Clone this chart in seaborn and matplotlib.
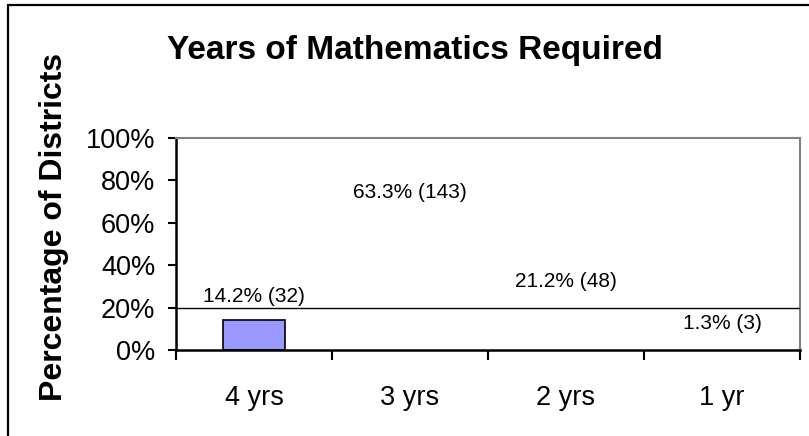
import matplotlib
matplotlib.use("Agg")
import matplotlib.pyplot as plt
import seaborn as sns
import pandas as pd
from matplotlib.patches import Rectangle
from matplotlib.ticker import FixedLocator

categories = ["4 yrs", "3 yrs", "2 yrs", "1 yr"]
percent = [14.2, 63.3, 21.2, 1.3]
counts = [32, 143, 48, 3]
y_ticks = [0, 20, 40, 60, 80, 100]
y_tick_labels = ["0%", "20%", "40%", "60%", "80%", "100%"]
title = "Years of Mathematics Required"
y_label = "Percentage of Districts"

sns.set_theme(style="white")
plt.rcParams["font.family"] = ["Liberation Sans", "DejaVu Sans"]

df = pd.DataFrame({"cat": categories, "pct": percent})

W, H = 809, 436
fig = plt.figure(figsize=(W / 100, H / 100), dpi=100)
ax = fig.add_axes([176 / W, 86 / H, 624 / W, 212 / H])

sns.barplot(data=df, x="cat", y="pct", ax=ax, width=0.4, saturation=1,
            color="#9999FF", edgecolor="black", linewidth=1.2, zorder=2)
# only the first bar is visible in the reference
for i, p in enumerate(ax.patches):
    if i > 0:
        p.set_visible(False)

ax.set_xlim(-0.5, len(categories) - 0.5)
ax.set_ylim(0, 100)
ax.axhline(20, color="black", linewidth=1.0, zorder=3)

for i, (v, c) in enumerate(zip(percent, counts)):
    ax.annotate(f"{v}% ({c})", xy=(i, v), xytext=(0, 17), textcoords="offset points",
                ha="center", va="center", fontsize=15, color="black")

ax.set_yticks(y_ticks)
ax.set_yticklabels(y_tick_labels, fontsize=19.5, color="black")
ax.tick_params(axis="y", direction="out", length=6, width=1.5, pad=9, color="black", left=True)
ax.set_xticks(range(len(categories)))
ax.set_xticklabels(categories, fontsize=19.5, color="black")
ax.tick_params(axis="x", which="major", length=0, pad=25)
ax.xaxis.set_minor_locator(FixedLocator([i - 0.5 for i in range(len(categories) + 1)]))
ax.tick_params(axis="x", which="minor", direction="out", length=7, width=1.5,
               color="black", bottom=True)
ax.set_xlabel("")
ax.set_ylabel("")

for s in ["left", "bottom"]:
    ax.spines[s].set_color("black")
    ax.spines[s].set_linewidth(1.8)
for s in ["top", "right"]:
    ax.spines[s].set_visible(True)
    ax.spines[s].set_color("#808080")
    ax.spines[s].set_linewidth(1.5)

fig.text(415 / W, 1 - 59 / H, title, ha="center", va="baseline",
         fontsize=24, fontweight="bold", color="black")
fig.text(54 / W, 1 - 227 / H, y_label, ha="center", va="center", rotation=90,
         fontsize=23, fontweight="bold", color="black")

# outer chart frame (cropped at right and bottom)
fig.patches.append(Rectangle((8 / W, -0.1), 1.2, 1 - 5 / H + 0.1, transform=fig.transFigure,
                             fill=False, edgecolor="black", linewidth=1.6))

fig.savefig("out.png", dpi=100)
